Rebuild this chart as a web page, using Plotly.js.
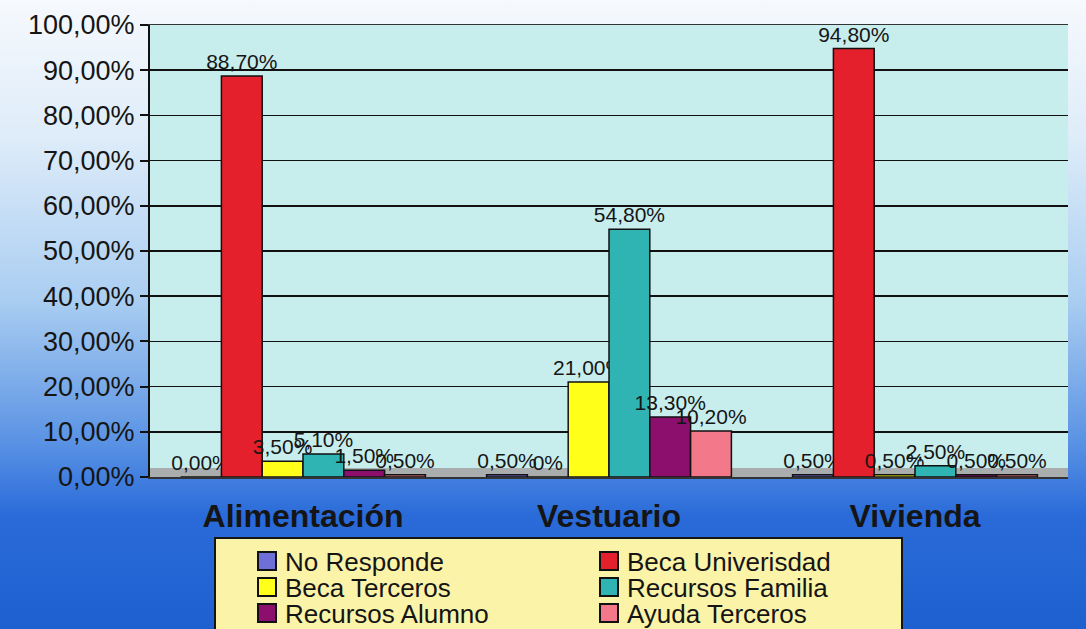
<!DOCTYPE html>
<html>
<head>
<meta charset="utf-8">
<script src="https://cdn.plot.ly/plotly-3.0.1.min.js"></script>
<style>
  html, body { margin: 0; padding: 0; }
  body {
    width: 1086px; height: 629px; overflow: hidden;
    background: linear-gradient(to bottom, #f6f9fd 0%, #deecf9 22%, #a9cdf1 48%, #5b93e4 70%, #2a6bd9 82%, #1f60d0 100%);
  }
  #chart { width: 1086px; height: 629px; }
</style>
</head>
<body>
<div id="chart"></div>
<script>
const categories = ['Alimentación', 'Vestuario', 'Vivienda'];
const seriesNames = ['No Responde', 'Beca Univerisdad', 'Beca Terceros', 'Recursos Familia', 'Recursos Alumno', 'Ayuda Terceros'];

const noResponde      = [0.0, 0.5, 0.5];
const becaUniversidad = [88.7, 0.0, 94.8];
const becaTerceros    = [3.5, 21.0, 0.5];
const recursosFamilia = [5.1, 54.8, 2.5];
const recursosAlumno  = [1.5, 13.3, 0.5];
const ayudaTerceros   = [0.5, 10.2, 0.5];

const labelsBecaUniversidad = ['88,70%', '0%', '94,80%'];

const yTickVals = [0, 10, 20, 30, 40, 50, 60, 70, 80, 90, 100];

const colors = ['#6f6fd8', '#e3202b', '#ffff1a', '#2fb3b3', '#8c0f6e', '#f2788a'];

function fmt(v) { return v.toFixed(2).replace('.', ',') + '%'; }

const seriesValues = [noResponde, becaUniversidad, becaTerceros, recursosFamilia, recursosAlumno, ayudaTerceros];

const FONT = 'Liberation Sans, Arial, sans-serif';

const traces = seriesValues.map((vals, i) => ({
  type: 'bar',
  name: seriesNames[i],
  x: categories,
  y: vals,
  text: i === 1 ? labelsBecaUniversidad : vals.map(fmt),
  textposition: 'outside',
  constraintext: 'none',
  cliponaxis: false,
  textfont: { family: FONT, size: 21, color: '#151515' },
  marker: { color: colors[i], line: { color: '#111', width: 1.5 } },
  hoverinfo: 'x+y+name'
}));

// Plot geometry (pixels) used only for placing the hand-laid legend box
const W = 1086, H = 629;
const M = { l: 150, r: 18, t: 25, b: 152 };
const pw = W - M.l - M.r, ph = H - M.t - M.b;
const px = x => (x - M.l) / pw;
const py = y => (H - M.b - y) / ph;

// grey floor strip of the original 3D chart
const shapes = [{
  type: 'rect', xref: 'paper', yref: 'paper', layer: 'below',
  x0: 0, x1: 1, y0: 0, y1: py(468),
  fillcolor: '#a9adad', line: { width: 0 }
}];

// Legend: 2 columns x 3 rows, built from seriesNames / colors
shapes.push({
  type: 'rect', xref: 'paper', yref: 'paper', layer: 'above',
  x0: px(215), x1: px(902), y0: py(645), y1: py(538),
  fillcolor: '#fbf3a8', line: { color: '#151515', width: 2 }
});
const legendAnnotations = [];
const colX = [258, 600];
const rowY = [561, 587, 613];
seriesNames.forEach((name, i) => {
  const c = i % 2, r = Math.floor(i / 2);
  const sx = colX[c], sy = rowY[r];
  shapes.push({
    type: 'rect', xref: 'paper', yref: 'paper', layer: 'above',
    x0: px(sx), x1: px(sx + 18), y0: py(sy + 9), y1: py(sy - 9),
    fillcolor: colors[i], line: { color: '#111', width: 2 }
  });
  legendAnnotations.push({
    xref: 'paper', yref: 'paper', x: px(sx + 25), y: py(sy + 1),
    xanchor: 'left', yanchor: 'middle', showarrow: false,
    text: name, font: { family: FONT, size: 26, color: '#151515' }
  });
});

const layout = {
  width: W, height: H,
  margin: { l: M.l, r: M.r, t: M.t, b: M.b, autoexpand: false },
  paper_bgcolor: 'rgba(0,0,0,0)',
  plot_bgcolor: '#c8eded',
  separators: ',.',
  barmode: 'group',
  bargap: 0.2,
  bargroupgap: 0,
  font: { family: FONT, color: '#151515' },
  xaxis: {
    type: 'category',
    showline: true, linecolor: '#333', linewidth: 1.5, mirror: true,
    ticks: 'outside', ticklen: 10, tickcolor: 'rgba(0,0,0,0)',
    tickfont: { size: 32, color: '#151515', family: FONT, weight: 'bold' },
    showgrid: false, zeroline: false
  },
  yaxis: {
    range: [0, 100],
    tickvals: yTickVals,
    ticktext: yTickVals.map(fmt),
    showline: true, linecolor: '#111', linewidth: 2,
    ticks: 'outside', ticklen: 8, tickcolor: '#111', tickwidth: 2,
    tickfont: { size: 27, color: '#151515' },
    showgrid: true, gridcolor: '#111', gridwidth: 1.5,
    zeroline: false
  },
  showlegend: false,
  shapes: shapes,
  annotations: legendAnnotations
};

Plotly.newPlot('chart', traces, layout, { displayModeBar: false, staticPlot: true });
</script>
</body>
</html>
